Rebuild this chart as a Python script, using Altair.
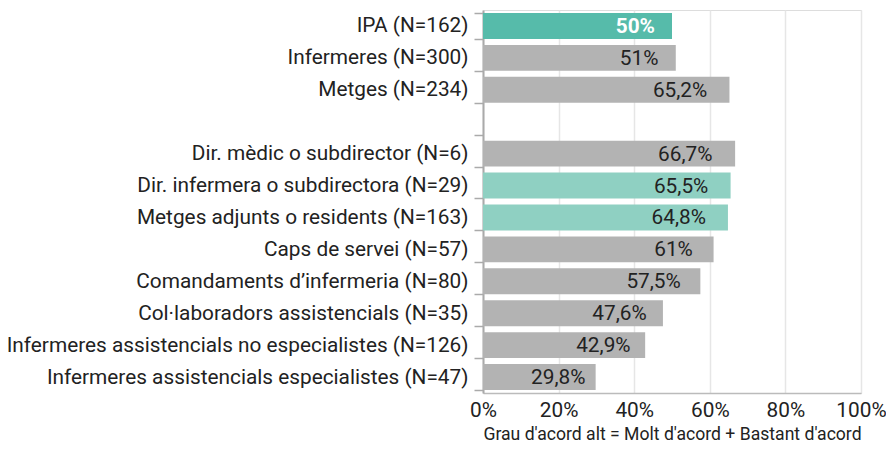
import altair as alt
import pandas as pd

categories = [
    "IPA (N=162)",
    "Infermeres (N=300)",
    "Metges (N=234)",
    " ",
    "Dir. mèdic o subdirector (N=6)",
    "Dir. infermera o subdirectora (N=29)",
    "Metges adjunts o residents (N=163)",
    "Caps de servei (N=57)",
    "Comandaments d’infermeria (N=80)",
    "Col·laboradors assistencials (N=35)",
    "Infermeres assistencials no especialistes (N=126)",
    "Infermeres assistencials especialistes (N=47)",
]
values = [50, 51, 65.2, None, 66.7, 65.5, 64.8, 61, 57.5, 47.6, 42.9, 29.8]
groups = ["ipa", "gray", "gray", None, "gray", "light", "light", "gray", "gray", "gray", "gray", "gray"]

rows = [
    {"cat": c, "v": v, "g": g}
    for c, v, g in zip(categories, values, groups)
    if v is not None
]
df = pd.DataFrame(rows)

FONT = "Roboto"
FS = 20.8

y = alt.Y(
    "cat:N",
    sort=categories,
    scale=alt.Scale(domain=categories, paddingInner=0.19, paddingOuter=0.095),
    axis=alt.Axis(
        title=None,
        labelFontSize=FS,
        labelColor="#222222",
        labelFont=FONT,
        labelPadding=6,
        tickBand="extent",
        tickSize=9,
        tickColor="#aaaaaa",
        tickWidth=1.5,
        domainColor="#aaaaaa",
        domainWidth=2,
        grid=False,
        labelLimit=700,
    ),
)

x = alt.X(
    "v:Q",
    scale=alt.Scale(domain=[0, 100]),
    axis=alt.Axis(
        title="Grau d'acord alt = Molt d'acord + Bastant d'acord",
        titleFontSize=17.6,
        titleFontWeight="normal",
        titleColor="#222222",
        titleFont=FONT,
        titlePadding=6,
        values=[0, 20, 40, 60, 80, 100],
        labelExpr="datum.value + '%'",
        labelFontSize=FS,
        labelColor="#222222",
        labelFont=FONT,
        labelPadding=7,
        labelFlush=False,
        ticks=False,
        grid=True,
        gridColor="#e6e6e6",
        gridWidth=1.5,
        domainColor="#bbbbbb",
        domainWidth=1.5,
    ),
)

bars = alt.Chart(df).mark_bar().encode(
    y=y,
    x=x,
    color=alt.Color(
        "g:N",
        scale=alt.Scale(domain=["ipa", "gray", "light"], range=["#56bbaa", "#b3b3b3", "#8fd0c2"]),
        legend=None,
    ),
)

base_text = alt.Chart(df).transform_calculate(
    lx="datum.v * 0.91",
    lab="replace(format(datum.v, '.1~f'), '.', ',') + '%'",
)
ty = alt.Y("cat:N", sort=categories, scale=alt.Scale(domain=categories))

text_dark = base_text.transform_filter("datum.g != 'ipa'").mark_text(
    align="right", baseline="middle", font=FONT, fontSize=FS, dy=1, color="#222222"
).encode(y=ty, x=alt.X("lx:Q"), text="lab:N")

text_ipa = base_text.transform_filter("datum.g == 'ipa'").mark_text(
    align="right", baseline="middle", font=FONT, fontSize=FS, dy=1, color="#ffffff", fontWeight="bold"
).encode(y=ty, x=alt.X("lx:Q"), text="lab:N")

chart = (
    alt.layer(bars, text_dark, text_ipa)
    .properties(
        width=378,
        height=383,
        autosize=alt.AutoSizeParams(type="none"),
        padding={"left": 475, "top": 2, "right": 25, "bottom": 51},
    )
    .configure_view(stroke=None)
    .configure(font=FONT)
)

chart.save("out.html", embed_options={"renderer": "svg", "actions": False})
